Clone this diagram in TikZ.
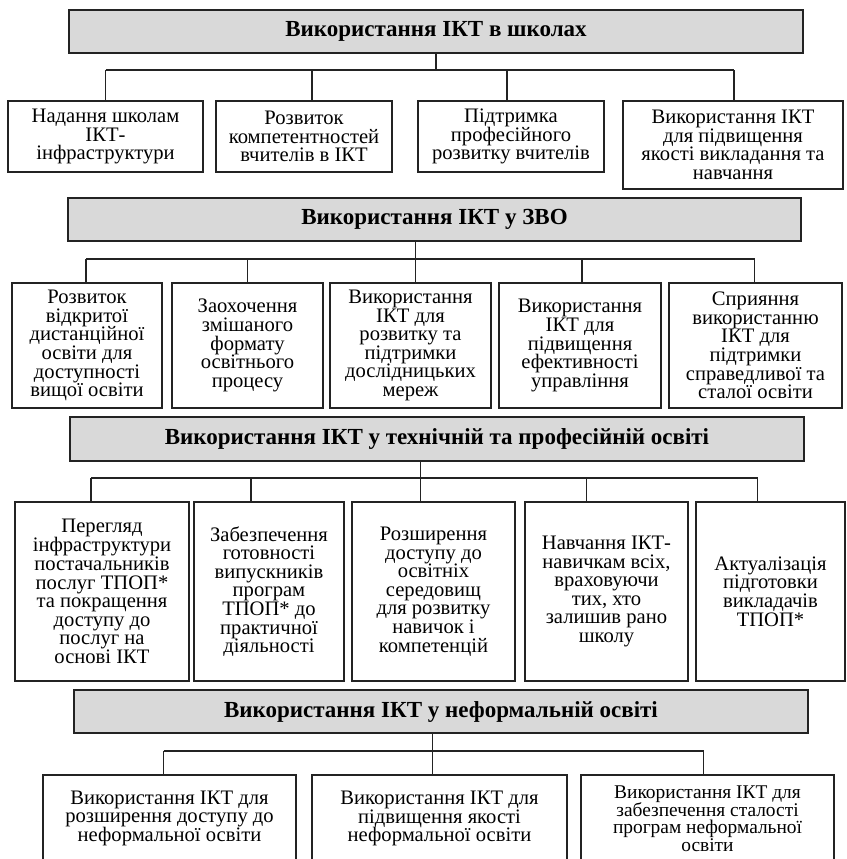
\documentclass[tikz,border=0pt]{standalone}
\usepackage{fontspec}
\setmainfont{Liberation Serif}
\usetikzlibrary{calc}

% tight line spacing inside the boxes
\setlength{\lineskiplimit}{0pt}
\setlength{\lineskip}{0.3pt}

\definecolor{headgray}{RGB}{217,217,217}
\definecolor{linegray}{RGB}{35,35,35}

\tikzset{
  hbox/.style={draw=linegray, line width=1.4pt, fill=headgray, inner sep=0pt,
    minimum width=734pt, minimum height=43pt,
    font=\bfseries\fontsize{23}{25}\selectfont},
  cbox/.style 2 args={draw=linegray, line width=1.4pt, fill=white, inner sep=0pt,
    align=center, minimum width=#1, minimum height=#2,
    font=\fontsize{20.6}{18.6}\selectfont},
  link/.style={draw=linegray, line width=1.1pt}
}

\begin{document}
\begin{tikzpicture}[x=1pt,y=-1pt]

% Frame
\useasboundingbox (0,0) rectangle (846,859);
\clip (0,0) rectangle (846,859);

% Bus levels
\coordinate (busA) at (0,70);
\coordinate (busB) at (0,259);
\coordinate (busC) at (0,478);
\coordinate (busD) at (0,751);

% Headers
\node[hbox] (hA) at (436,31.5) {Використання ІКТ в школах};
\node[hbox, minimum width=733pt] (hB) at (434.5,219.5) {Використання ІКТ у ЗВО};
\node[hbox, minimum height=44pt] (hC) at (437,439) {Використання ІКТ у технічній та професійній освіті};
\node[hbox] (hD) at (441,711.5) {Використання ІКТ у неформальній освіті};

% Schools
\node[cbox={195pt}{71pt}] (a1) at (105.5,136.5) {Надання школам\\ІКТ-\\інфраструктури};
\node[cbox={176pt}{71pt}] (a2) at (304,136.5) {Розвиток\\компетентностей\\вчителів в ІКТ};
\node[cbox={186pt}{71pt}] (a3) at (511,136.5) {Підтримка\\професійного\\розвитку вчителів};
\node[cbox={220pt}{88pt}] (a4) at (733,145) {Використання ІКТ\\для підвищення\\якості викладання та\\навчання};

% Higher education
\node[cbox={150pt}{125pt}] (b1) at (87,345.5) {Розвиток\\відкритої\\дистанційної\\освіти для\\доступності\\вищої освіти};
\node[cbox={151pt}{125pt}] (b2) at (247.5,345.5) {Заохочення\\змішаного\\формату\\освітнього\\процесу};
\node[cbox={161pt}{125pt}] (b3) at (410.5,345.5) {Використання\\ІКТ для\\розвитку та\\підтримки\\дослідницьких\\мереж};
\node[cbox={162pt}{125pt}] (b4) at (580,345.5) {Використання\\ІКТ для\\підвищення\\ефективності\\управління};
\node[cbox={173pt}{125pt}] (b5) at (755.5,345.5) {Сприяння\\використанню\\ІКТ для\\підтримки\\справедливої та\\сталої освіти};

% Technical and vocational
\node[cbox={174pt}{179pt}] (c1) at (102,591.5) {Перегляд\\інфраструктури\\постачальників\\послуг ТПОП*\\та покращення\\доступу до\\послуг на\\основі ІКТ};
\node[cbox={150pt}{179pt}] (c2) at (269,591.5) {Забезпечення\\готовності\\випускників\\програм\\ТПОП* до\\практичної\\діяльності};
\node[cbox={163pt}{179pt}] (c3) at (433.5,591.5) {Розширення\\доступу до\\освітніх\\середовищ\\для розвитку\\навичок і\\компетенцій};
\node[cbox={163pt}{179pt}] (c4) at (606.5,591.5) {Навчання ІКТ-\\навичкам всіх,\\враховуючи\\тих, хто\\залишив рано\\школу};
\node[cbox={149pt}{179pt}] (c5) at (770.5,591.5) {Актуалізація\\підготовки\\викладачів\\ТПОП*};

% Non-formal
\node[cbox={253pt}{87pt}] (d1) at (169.5,818.5) {Використання ІКТ для\\розширення доступу до\\неформальної освіти};
\node[cbox={255pt}{87pt}] (d2) at (439.5,818.5) {Використання ІКТ для\\підвищення якості\\неформальної освіти};
\node[cbox={253pt}{87pt}, font=\fontsize{19.4}{17.6}\selectfont] (d3) at (707.5,818.5) {Використання ІКТ для\\забезпечення сталості\\програм неформальної\\освіти};

% Drops
\foreach \n/\dx in {a1/0,a2/8,a3/-4,a4/1}
  \draw[link] ([xshift=\dx pt]\n.north) coordinate (t) -- (t |- busA) coordinate (\n f);
\foreach \n/\dx in {b1/-1,b2/0,b3/5,b4/2,b5/-1}
  \draw[link] ([xshift=\dx pt]\n.north) coordinate (t) -- (t |- busB) coordinate (\n f);
\foreach \n/\dx in {c1/-11,c2/-18,c3/-13,c4/-20,c5/-13}
  \draw[link] ([xshift=\dx pt]\n.north) coordinate (t) -- (t |- busC) coordinate (\n f);
\foreach \n/\dx in {d1/-6,d2/-7,d3/-4}
  \draw[link] ([xshift=\dx pt]\n.north) coordinate (t) -- (t |- busD) coordinate (\n f);

% Buses and stems
\draw[link] (a1f) -- (a4f);
\draw[link] (hA.south) -- (hA.south |- busA);
\draw[link] (b1f) -- (b5f);
\draw[link] (b3f) -- (b3f |- hB.south);
\draw[link] (c1f) -- (c5f);
\draw[link] (c3f) -- (c3f |- hC.south);
\draw[link] (d1f) -- (d3f);
\draw[link] (d2f) -- (d2f |- hD.south);

\end{tikzpicture}
\end{document}
